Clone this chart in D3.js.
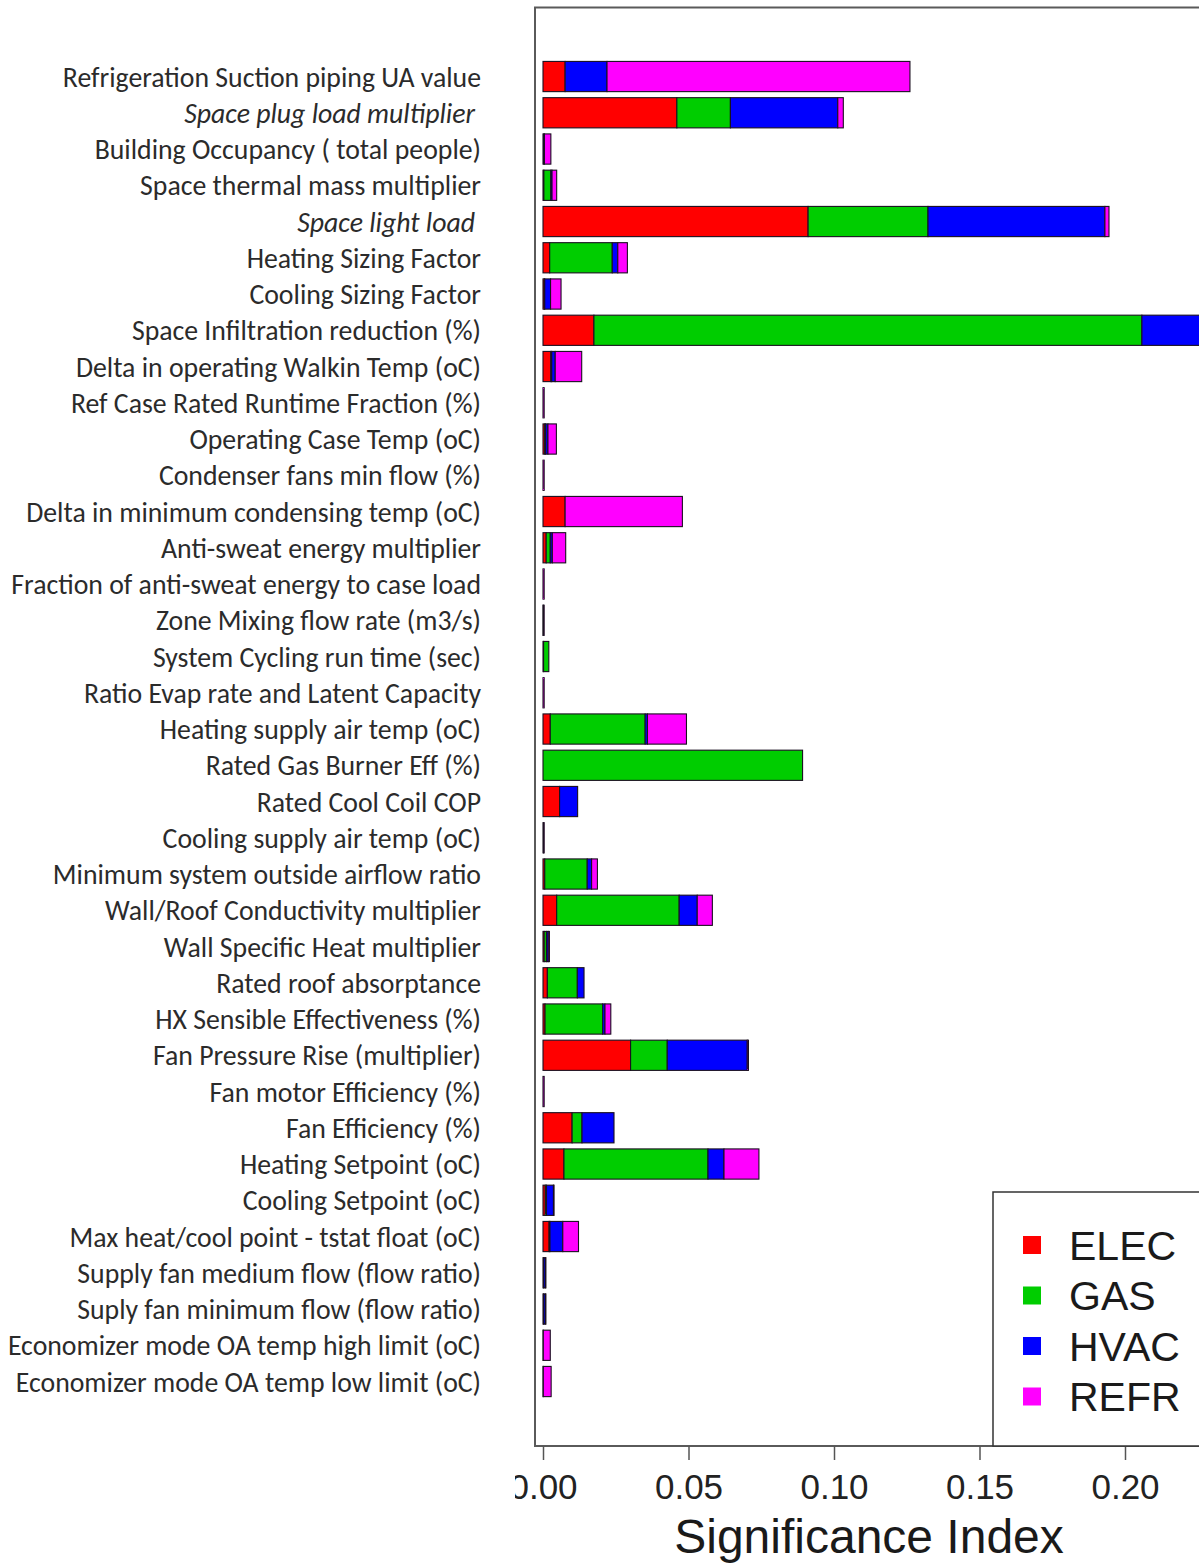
<!DOCTYPE html>
<html>
<head>
<meta charset="utf-8">
<script src="https://cdn.jsdelivr.net/npm/d3@7"></script>
<style>
  html, body { margin: 0; padding: 0; background: #fff; }
  svg { display: block; }
</style>
</head>
<body>
<svg id="chart" width="1199" height="1566"></svg>
<script>
// Parameters (top to bottom)
const categories = [
  "Refrigeration Suction piping UA value",
  "Space plug load multiplier",
  "Building Occupancy ( total people)",
  "Space thermal mass multiplier",
  "Space light load",
  "Heating Sizing Factor",
  "Cooling Sizing Factor",
  "Space Infiltration reduction (%)",
  "Delta in operating Walkin Temp (oC)",
  "Ref Case Rated Runtime Fraction (%)",
  "Operating Case Temp (oC)",
  "Condenser fans min flow (%)",
  "Delta in minimum condensing temp (oC)",
  "Anti-sweat energy multiplier",
  "Fraction of anti-sweat energy to case load",
  "Zone Mixing flow rate (m3/s)",
  "System Cycling run time (sec)",
  "Ratio Evap rate and Latent Capacity",
  "Heating supply air temp (oC)",
  "Rated Gas Burner Eff (%)",
  "Rated Cool Coil COP",
  "Cooling supply air temp (oC)",
  "Minimum system outside airflow ratio",
  "Wall/Roof Conductivity multiplier",
  "Wall Specific Heat multiplier",
  "Rated roof absorptance",
  "HX Sensible Effectiveness (%)",
  "Fan Pressure Rise (multiplier)",
  "Fan motor Efficiency (%)",
  "Fan Efficiency (%)",
  "Heating Setpoint (oC)",
  "Cooling Setpoint (oC)",
  "Max heat/cool point - tstat float (oC)",
  "Supply fan medium flow (flow ratio)",
  "Suply fan minimum flow (flow ratio)",
  "Economizer mode OA temp high limit (oC)",
  "Economizer mode OA temp low limit (oC)"
];
const italicLabels = ["Space plug load multiplier", "Space light load"];

// Significance index per end use
const elec = [0.0076, 0.0460, 0.0003, 0.0003, 0.0911, 0.0023, 0.0004, 0.0175, 0.0027, 0,
              0.0006, 0, 0.0076, 0.0011, 0, 0, 0.0002, 0, 0.0025, 0,
              0.0057, 0, 0.0006, 0.0047, 0.0004, 0.0015, 0.0007, 0.0301, 0, 0.0100,
              0.0072, 0.0008, 0.0021, 0.0002, 0.0002, 0.0001, 0.0001];
const gas  = [0, 0.0184, 0, 0.0024, 0.0412, 0.0215, 0.0002, 0.1883, 0.0003, 0,
              0.0003, 0, 0, 0.0014, 0, 0, 0.0018, 0, 0.0326, 0.0892,
              0, 0, 0.0146, 0.0421, 0.0008, 0.0103, 0.0198, 0.0126, 0, 0.0034,
              0.0495, 0.0004, 0.0003, 0, 0, 0, 0];
const hvac = [0.0144, 0.0369, 0.0002, 0.0004, 0.0608, 0.0019, 0.0020, 0.0300, 0.0012, 0,
              0.0008, 0, 0, 0.0007, 0, 0.0001, 0, 0, 0.0008, 0,
              0.0062, 0.0002, 0.0015, 0.0062, 0.0006, 0.0023, 0.0008, 0.0275, 0, 0.0110,
              0.0055, 0.0024, 0.0044, 0.0006, 0.0006, 0, 0];
const refr = [0.1041, 0.0019, 0.0022, 0.0016, 0.0014, 0.0033, 0.0036, 0.0020, 0.0091, 0.0004,
              0.0029, 0.0004, 0.0403, 0.0046, 0.0004, 0.0003, 0, 0.0004, 0.0134, 0,
              0, 0.0002, 0.0020, 0.0052, 0.0004, 0, 0.0020, 0.0004, 0.0004, 0,
              0.0120, 0.0002, 0.0054, 0.0002, 0.0002, 0.0024, 0.0027];

const seriesKeys = ["ELEC", "GAS", "HVAC", "REFR"];
const seriesColors = ["#ff0000", "#00cd00", "#0000ff", "#ff00ff"];
const tickValues = [0, 0.05, 0.10, 0.15, 0.20];
const axisTitle = "Significance Index";

const rows = categories.map((c, i) => ({
  name: c, ELEC: elec[i], GAS: gas[i], HVAC: hvac[i], REFR: refr[i]
}));

const svg = d3.select("#chart");

const x = d3.scaleLinear().domain([0, 0.2]).range([543, 1125]);
const y = d3.scaleBand()
  .domain(categories)
  .range([58.4, 58.4 + categories.length * 36.25])
  .paddingInner(1 / 6)
  .paddingOuter(1 / 12);
const color = d3.scaleOrdinal().domain(seriesKeys).range(seriesColors);

// Plot frame
svg.append("rect")
  .attr("x", 535).attr("y", 7.5)
  .attr("width", 800).attr("height", 1446 - 7.5)
  .attr("fill", "none").attr("stroke", "#5a5a5a").attr("stroke-width", 2);

// Stacked bars
const stacked = d3.stack().keys(seriesKeys)(rows);
svg.append("g").selectAll("g")
  .data(stacked)
  .join("g")
  .attr("fill", d => color(d.key))
  .selectAll("rect")
  .data(d => d.filter(s => s[1] - s[0] > 0))
  .join("rect")
  .attr("x", d => x(d[0]))
  .attr("y", d => y(d.data.name))
  .attr("width", d => x(d[1]) - x(d[0]))
  .attr("height", y.bandwidth())
  .attr("stroke", "#1a1020")
  .attr("stroke-width", 1.1);

// Parameter labels
const labelFont = "Carlito, Calibri, Lato, 'Noto Sans', sans-serif";
const labels = svg.append("g")
  .attr("font-family", labelFont)
  .attr("fill", "#2b2b2b")
  .attr("text-anchor", "end");
const labelText = labels.selectAll("text")
  .data(categories)
  .join("text")
  .attr("x", d => italicLabels.includes(d) ? 475 : 481)
  .attr("y", d => y(d) + y.bandwidth() / 2)
  .attr("dy", "0.36em")
  .attr("font-style", d => italicLabels.includes(d) ? "italic" : "normal")
  .attr("font-size", 22)
  .text(d => d);
// size the labels so the longest one spans the left margin
const longest = labelText.filter(d => d === "Fraction of anti-sweat energy to case load").node();
const w = longest.getComputedTextLength();
labelText.attr("font-size", 22 * 470 / w);

// X axis (the first tick label is partly hidden behind the label margin)
svg.append("clipPath").attr("id", "axisClip")
  .append("rect").attr("x", 515).attr("y", 1440).attr("width", 700).attr("height", 80);
const axis = d3.axisBottom(x)
  .tickValues(tickValues)
  .tickFormat(d3.format(".2f"))
  .tickSize(14)
  .tickPadding(14.5);
const axisWrap = svg.append("g").attr("clip-path", "url(#axisClip)");
const ax = axisWrap.append("g")
  .attr("transform", "translate(0,1446)")
  .call(axis);
ax.select(".domain").remove();
ax.selectAll(".tick line").attr("stroke", "#555").attr("stroke-width", 1.5);
ax.selectAll(".tick text")
  .attr("font-family", "'Liberation Sans', Arial, sans-serif")
  .attr("font-size", 35)
  .attr("fill", "#222");

svg.append("text")
  .attr("x", 869).attr("y", 1553)
  .attr("text-anchor", "middle")
  .attr("font-family", "'Liberation Sans', Arial, sans-serif")
  .attr("font-size", 48)
  .attr("fill", "#1a1a1a")
  .text(axisTitle);

// Legend
const legend = svg.append("g");
legend.append("rect")
  .attr("x", 993).attr("y", 1192)
  .attr("width", 300).attr("height", 1446 - 1192)
  .attr("fill", "#fff").attr("stroke", "#333").attr("stroke-width", 1.5);
const items = legend.selectAll("g.item")
  .data(seriesKeys)
  .join("g")
  .attr("class", "item")
  .attr("transform", (d, i) => `translate(0,${1245 + i * 50.5})`);
items.append("rect")
  .attr("x", 1023).attr("y", -9)
  .attr("width", 18).attr("height", 18)
  .attr("fill", d => color(d));
items.append("text")
  .attr("x", 1069).attr("y", 0)
  .attr("dy", "0.36em")
  .attr("font-family", "'Liberation Sans', Arial, sans-serif")
  .attr("font-size", 41)
  .attr("fill", "#1a1a1a")
  .text(d => d);
</script>
</body>
</html>
